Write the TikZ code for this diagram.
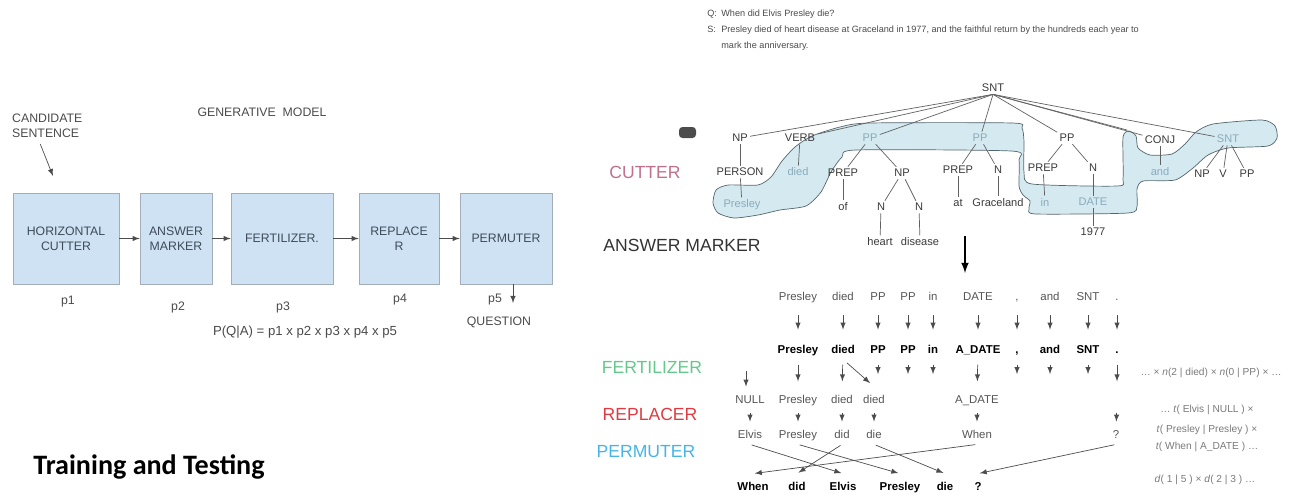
\documentclass[tikz,border=0pt]{standalone}
\usepackage{fontspec}
\setmainfont{Liberation Sans}
\newfontfamily\calibri{Carlito}
\usetikzlibrary{arrows,calc}

\definecolor{boxfill}{HTML}{CFE2F3}
\definecolor{boxline}{HTML}{A3ADB8}
\definecolor{boxtext}{HTML}{3D4B5A}
\definecolor{lbltext}{HTML}{4A4A4A}
\definecolor{cutcol}{HTML}{C0708A}
\definecolor{anscol}{HTML}{333333}
\definecolor{fercol}{HTML}{62C98A}
\definecolor{repcol}{HTML}{E03A40}
\definecolor{percol}{HTML}{45B4E6}
\definecolor{blobfill}{HTML}{D4EAF0}
\definecolor{blobline}{HTML}{55656E}
\definecolor{blobtext}{HTML}{8AAABB}
\definecolor{treetext}{HTML}{3A3A3A}
\definecolor{wordtext}{HTML}{555555}
\definecolor{fmtext}{HTML}{7A7A7A}

\tikzset{
  box/.style={draw=boxline,fill=boxfill,text=boxtext,minimum height=1.82cm,
    align=center,font=\fontsize{7}{8.5}\selectfont},
  lbl/.style={text=lbltext,font=\fontsize{7}{8.5}\selectfont},
  stage/.style={font=\fontsize{10}{12}\selectfont},
  tn/.style={text=treetext,font=\fontsize{6.3}{7}\selectfont,inner sep=1.2pt},
  bn/.style={tn,text=blobtext},
  te/.style={draw=treetext!80},
  wd/.style={text=wordtext,font=\fontsize{6.5}{7}\selectfont,
    text height=1.6ex,text depth=0.4ex,inner sep=1pt},
  wb/.style={wd,text=black,font=\fontsize{6.5}{7}\selectfont\bfseries},
  fm/.style={text=fmtext,font=\fontsize{5.8}{7}\selectfont},
  arr/.style={->,draw=black!70},
  a12/.style={arr,shorten <=5pt,shorten >=4pt},
  a23/.style={arr,shorten <=3pt,shorten >=3pt},
  a34/.style={arr,shorten <=2pt},
  a45/.style={arr,shorten <=1pt,shorten >=1pt},
}

\begin{document}
\begin{tikzpicture}[>=latex,x=0.02cm,y=-0.02cm]

\useasboundingbox (0,0) rectangle (1293,494);

\def\ya{295}
\def\yb{348}
\def\yc{398}
\def\yd{433}
\def\ye{485}

% generative model
\node[lbl,align=left,anchor=north west] (cand) at (6,108) {CANDIDATE\\SENTENCE};
\node[lbl] (gen) at (262,112) {GENERATIVE\ \ MODEL};
\coordinate (ctip) at (53,176);
\draw[arr] ([xshift=-0.14cm]cand.south) -- (ctip);

\node[box,minimum width=2.12cm] (hc) at (66,238.5) {HORIZONTAL\\CUTTER};
\node[box,minimum width=1.44cm] (am) at (176,238.5) {ANSWER\\MARKER};
\node[box,minimum width=2.04cm] (fe) at (282,238.5) {FERTILIZER.};
\node[box,minimum width=1.6cm] (re) at (399,238.5) {REPLACE\\R};
\node[box,minimum width=1.84cm] (pm) at (506,238.5) {PERMUTER};
\draw[arr] (hc) -- (am);
\draw[arr] (am) -- (fe);
\draw[arr] (fe) -- (re);
\draw[arr] (re) -- (pm);

\node[lbl] (p1) at (68,302) {p1};
\node[lbl] (p2) at (178,307) {p2};
\node[lbl] (p3) at (283,307) {p3};
\node[lbl] (p4) at (400,300) {p4};
\node[lbl] (p5) at (495,300) {p5};
\coordinate (qtip) at (513,303);
\draw[arr] (pm.south -| qtip) -- (qtip);
\node[lbl] (quest) at (499,322) {QUESTION};
\node[lbl,font=\fontsize{7.5}{9}\selectfont] (pqa) at (305,332)
  {P(Q|A) = p1 x p2 x p3 x p4 x p5};

\node[anchor=west,inner sep=0,font=\calibri\bfseries\fontsize{16}{18}\selectfont]
  (tt) at (33,467) {Training and Testing};

% example sentence
\node[anchor=north west,align=left,inner sep=0,text=lbltext,
  font=\fontsize{5.2}{9}\selectfont] (qs) at (707,10)
  {\makebox[0.28cm][l]{Q:}When did Elvis Presley die?\\
   \makebox[0.28cm][l]{S:}Presley died of heart disease at Graceland in 1977, and the faithful return by the hundreds each year to\\
   \hspace*{0.28cm}mark the anniversary.};

% stages
\fill[black!70,rounded corners=2pt] (679,127) rectangle (696,138);
\node[stage,text=cutcol] (cut) at (645,172) {CUTTER};
\node[stage,text=anscol] (ans) at (682,245) {ANSWER MARKER};
\node[stage,text=fercol] (fer) at (652,367) {FERTILIZER};
\node[stage,text=repcol] (rep) at (650,414) {REPLACER};
\node[stage,text=percol] (per) at (646,452) {PERMUTER};

% cut out part of the tree
\filldraw[fill=blobfill,draw=blobline] plot[smooth cycle,tension=0.4] coordinates {
  (713,203) (716,190) (728,185) (758,185) (771,177) (782,161) (795,147)
  (812,136) (840,127) (870,123) (1012,123) (1022,128) (1024,142) (1024,172)
  (1032,184) (1117,186) (1123,179) (1123,137) (1129,131) (1136,136)
  (1138,148) (1150,155) (1172,154) (1185,144) (1196,132) (1213,124)
  (1262,120) (1275,126) (1277,138) (1268,146) (1228,148) (1208,155)
  (1193,168) (1175,180) (1143,181) (1137,189) (1137,206) (1128,213)
  (1036,214) (1029,209) (1030,201) (1023,195) (1019,186) (1019,160)
  (1011,151) (856,150) (842,157) (831,172) (821,192) (806,206) (780,210)
  (758,215) (734,218) (718,213)};

% parse tree
\node[tn] (tsnt) at (993,88) {SNT};
\node[tn] (tnp) at (740,138) {NP};
\node[tn] (tverb) at (800,138) {VERB};
\node[bn] (tpp1) at (870,138) {PP};
\node[bn] (tpp2) at (980,138) {PP};
\node[tn] (tpp3) at (1067,138) {PP};
\coordinate (tcm) at (1127,130);
\node[tn] (tconj) at (1160,140) {CONJ};
\node[bn] (tsnt2) at (1228,139) {SNT};

\node[tn] (tperson) at (740,172) {PERSON};
\node[bn] (tdied) at (798,172) {died};
\node[tn] (tprep1) at (843,173) {PREP};
\node[tn] (tnp2) at (902,173) {NP};
\node[tn] (tprep2) at (958,170) {PREP};
\node[tn] (tn1) at (998,170) {N};
\node[tn] (tprep3) at (1043,168) {PREP};
\node[tn] (tn2) at (1093,168) {N};
\node[bn] (tand) at (1160,172) {and};
\node[tn] (tnp3) at (1202,174) {NP};
\node[tn] (tv) at (1223,174) {V};
\node[tn] (tpp4) at (1247,174) {PP};

\node[bn] (tpres) at (742,205) {Presley};
\node[tn] (tof) at (843,207) {of};
\node[tn] (tn3) at (881,207) {N};
\node[tn] (tn4) at (919,207) {N};
\node[tn] (tat) at (958,203) {at};
\node[tn] (tgrace) at (998,203) {Graceland};
\node[bn] (tin) at (1045,202) {in};
\node[bn] (tdate) at (1093,202) {DATE};
\node[tn] (theart) at (880,242) {heart};
\node[tn] (tdis) at (920,242) {disease};
\node[tn] (tyear) at (1093,232) {1977};

\draw[te] (tsnt.south) -- (tnp);
\draw[te] (tsnt.south) -- (tverb);
\draw[te] (tsnt.south) -- (tpp1);
\draw[te] (tsnt.south) -- (tpp2);
\draw[te] (tsnt.south) -- (tpp3);
\draw[te] (tsnt.south) -- (tcm);
\draw[te] (tsnt.south) -- (tconj);
\draw[te] (tsnt.south) -- (tsnt2);
\draw[te] (tnp) -- (tperson);
\draw[te] (tperson) -- (tpres);
\draw[te] (tverb) -- (tdied);
\draw[te] (tpp1) -- (tprep1);
\draw[te] (tpp1) -- (tnp2);
\draw[te] (tprep1) -- (tof);
\draw[te] (tnp2) -- (tn3);
\draw[te] (tnp2) -- (tn4);
\draw[te] (tn3) -- (theart);
\draw[te] (tn4) -- (tdis);
\draw[te] (tpp2) -- (tprep2);
\draw[te] (tpp2) -- (tn1);
\draw[te] (tprep2) -- (tat);
\draw[te] (tn1) -- (tgrace);
\draw[te] (tpp3) -- (tprep3);
\draw[te] (tpp3) -- (tn2);
\draw[te] (tprep3) -- (tin);
\draw[te] (tn2) -- (tdate);
\draw[te] (tdate) -- (tyear);
\draw[te] (tconj) -- (tand);
\draw[te] (tsnt2) -- (tnp3);
\draw[te] (tsnt2) -- (tv);
\draw[te] (tsnt2) -- (tpp4);

\coordinate (dtop) at (965,236);
\coordinate (dbot) at (965,273);
\draw[->,line width=1pt] (dtop) -- (dbot);

% word rows
\node[wd] (a1) at (798,\ya) {Presley};
\node[wd] (a2) at (843,\ya) {died};
\node[wd] (a3) at (878,\ya) {PP};
\node[wd] (a4) at (908,\ya) {PP};
\node[wd] (a5) at (933,\ya) {in};
\node[wd] (a6) at (978,\ya) {DATE};
\node[wd] (a7) at (1017,\ya) {,};
\node[wd] (a8) at (1050,\ya) {and};
\node[wd] (a9) at (1088,\ya) {SNT};
\node[wd] (a10) at (1117,\ya) {.};

\node[wb] (b1) at (798,\yb) {Presley};
\node[wb] (b2) at (843,\yb) {died};
\node[wb] (b3) at (878,\yb) {PP};
\node[wb] (b4) at (908,\yb) {PP};
\node[wb] (b5) at (933,\yb) {in};
\node[wb] (b6) at (978,\yb) {A\_DATE};
\node[wb] (b7) at (1017,\yb) {,};
\node[wb] (b8) at (1050,\yb) {and};
\node[wb] (b9) at (1088,\yb) {SNT};
\node[wb] (b10) at (1117,\yb) {.};

\node[wd] (c0) at (750,\yc) {NULL};
\node[wd] (c1) at (798,\yc) {Presley};
\node[wd] (c2) at (842,\yc) {died};
\node[wd] (c3) at (874,\yc) {died};
\node[wd] (c6) at (977,\yc) {A\_DATE};
\node[wd] (c10) at (1117,\yc) {};

\node[wd] (d0) at (750,\yd) {Elvis};
\node[wd] (d1) at (798,\yd) {Presley};
\node[wd] (d2) at (842,\yd) {did};
\node[wd] (d3) at (874,\yd) {die};
\node[wd] (d6) at (977,\yd) {When};
\node[wd] (d10) at (1116,\yd) {?};

\node[wb] (e1) at (753,\ye) {When};
\node[wb] (e2) at (797,\ye) {did};
\node[wb] (e3) at (843,\ye) {Elvis};
\node[wb] (e4) at (900,\ye) {Presley};
\node[wb] (e5) at (945,\ye) {die};
\node[wb] (e6) at (978,\ye) {?};

\draw[a12] (a1) -- (b1);
\draw[a12] (a2) -- (b2);
\draw[a12] (a3) -- (b3);
\draw[a12] (a4) -- (b4);
\draw[a12] (a5) -- (b5);
\draw[a12] (a6) -- (b6);
\draw[a12] (a7) -- (b7);
\draw[a12] (a8) -- (b8);
\draw[a12] (a9) -- (b9);
\draw[a12] (a10) -- (b10);

\draw[a23] (b1) -- (c1);
\draw[a23] (b2) -- (c2);
\draw[a23] (b2.south) -- (c3.north);
\draw[a23] (b3.south) -- ++(0,20);
\draw[a23] (b4.south) -- ++(0,20);
\draw[a23] (b5.south) -- ++(0,20);
\draw[a23] (b6) -- (c6);
\draw[a23] (b7.south) -- ++(0,20);
\draw[a23] (b8.south) -- ++(0,20);
\draw[a23] (b9.south) -- ++(0,20);
\draw[a23] (b10) -- (c10);
\draw[arr] ($(c0.north)+(-4,-16)$) -- ($(c0.north)+(-4,0)$);

\draw[a34] (c0) -- (d0);
\draw[a34] (c1) -- (d1);
\draw[a34] (c2) -- (d2);
\draw[a34] (c3) -- (d3);
\draw[a34] (c6) -- (d6);
\draw[a34] (c10) -- (d10);

\draw[a45] (d0.south) -- (e3.north);
\draw[a45] (d1.south) -- (e4.north);
\draw[a45] (d2.south) -- (e2.north);
\draw[a45] (d3.south) -- (e5.north);
\draw[a45] (d6.south) -- (e1.north);
\draw[a45] (d10.south) -- (e6.north);

% model probabilities
\node[fm] (f1) at (1211,373) {\dots{} × \textit{n}(2 | died) × \textit{n}(0 | PP) × \dots};
\node[fm] (f2) at (1207,410) {\dots{} \textit{t}( Elvis | NULL ) ×};
\node[fm] (f3) at (1207,430) {\textit{t}( Presley | Presley ) ×};
\node[fm] (f4) at (1207,447) {\textit{t}( When | A\_DATE ) \dots};
\node[fm] (f5) at (1205,480) {\textit{d}( 1 | 5 ) × \textit{d}( 2 | 3 ) \dots};

\end{tikzpicture}
\end{document}
